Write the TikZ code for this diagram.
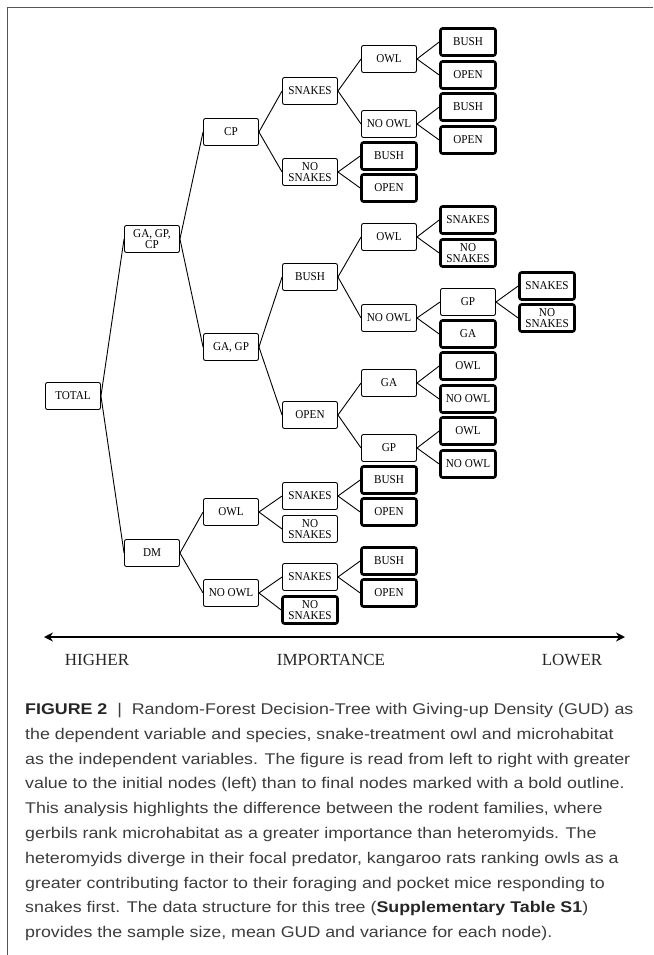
\documentclass[tikz,border=0pt]{standalone}
\usepackage{fontspec}
\setmainfont{Liberation Serif}
\newfontfamily\treefont[FakeStretch=0.93]{Liberation Serif}
\newfontfamily\capfont[FakeStretch=1.15]{Liberation Sans}
\usetikzlibrary{arrows.meta}
\definecolor{frameline}{HTML}{555555}
\definecolor{captext}{HTML}{3C3C3C}
\tikzset{
  box/.style={draw, rounded corners=2pt, minimum width=55pt, minimum height=27pt,
    inner sep=0pt, line width=0.9pt, align=center,
    font=\treefont\fontsize{12}{11.7}\selectfont},
  leaf/.style={box, line width=2.6pt},
  edge/.style={line width=0.9pt},
  scalelabel/.style={font=\fontsize{17}{20}\selectfont, text=black!85, anchor=base}
}
\begin{document}
\begin{tikzpicture}[x=1pt,y=-1pt] %arbol de decision, coordenadas en pixeles
            \useasboundingbox (0,0) rectangle (653,955);
            \draw[frameline, line width=1pt] (653,7.5) -- (7.5,7.5) -- (7.5,955);

            \node[box] (T) at (73,396) {TOTAL};

            \node[box] (A1) at (152,239) {GA, GP,\\CP};
            \node[box] (A2) at (152,553) {DM};

            \node[box] (B1) at (231,132) {CP};
            \node[box] (B2) at (231,347) {GA, GP};
            \node[box] (B3) at (231,512) {OWL};
            \node[box] (B4) at (231,593) {NO OWL};

            \node[box] (C1) at (310,91) {SNAKES};
            \node[box] (C2) at (310,172) {NO\\SNAKES};
            \node[box] (C3) at (310,277) {BUSH};
            \node[box] (C4) at (310,415) {OPEN};
            \node[box] (C5) at (310,496) {SNAKES};
            \node[box] (C6) at (310,529) {NO\\SNAKES};
            \node[box] (C7) at (310,577) {SNAKES};
            \node[leaf] (C8) at (310,610) {NO\\SNAKES};

            \node[box] (D1) at (389,59) {OWL};
            \node[box] (D2) at (389,124) {NO OWL};
            \node[leaf] (D3) at (389,156) {BUSH};
            \node[leaf] (D4) at (389,188) {OPEN};
            \node[box] (D5) at (389,237) {OWL};
            \node[box] (D6) at (389,318) {NO OWL};
            \node[box] (D7) at (389,383) {GA};
            \node[box] (D8) at (389,448) {GP};
            \node[leaf] (D9) at (389,480) {BUSH};
            \node[leaf] (D10) at (389,512) {OPEN};
            \node[leaf] (D11) at (389,561) {BUSH};
            \node[leaf] (D12) at (389,593) {OPEN};

            \node[leaf] (E1) at (468,42) {BUSH};
            \node[leaf] (E2) at (468,75) {OPEN};
            \node[leaf] (E3) at (468,107) {BUSH};
            \node[leaf] (E4) at (468,140) {OPEN};
            \node[leaf] (E5) at (468,220) {SNAKES};
            \node[leaf] (E6) at (468,253) {NO\\SNAKES};
            \node[box] (E7) at (468,302) {GP};
            \node[leaf] (E8) at (468,334) {GA};
            \node[leaf] (E9) at (468,366) {OWL};
            \node[leaf] (E10) at (468,399) {NO OWL};
            \node[leaf] (E11) at (468,431) {OWL};
            \node[leaf] (E12) at (468,464) {NO OWL};

            \node[leaf] (F1) at (547,286) {SNAKES};
            \node[leaf] (F2) at (547,318) {NO\\SNAKES};

            \draw[edge] (T.east) -- (A1.west);
            \draw[edge] (T.east) -- (A2.west);
            \draw[edge] (A1.east) -- (B1.west);
            \draw[edge] (A1.east) -- (B2.west);
            \draw[edge] (A2.east) -- (B3.west);
            \draw[edge] (A2.east) -- (B4.west);

            \draw[edge] (B1.east) -- (C1.west);
            \draw[edge] (B1.east) -- (C2.west);
            \draw[edge] (B2.east) -- (C3.west);
            \draw[edge] (B2.east) -- (C4.west);
            \draw[edge] (B3.east) -- (C5.west);
            \draw[edge] (B3.east) -- (C6.west);
            \draw[edge] (B4.east) -- (C7.west);
            \draw[edge] (B4.east) -- (C8.west);

            \draw[edge] (C1.east) -- (D1.west);
            \draw[edge] (C1.east) -- (D2.west);
            \draw[edge] (C2.east) -- (D3.west);
            \draw[edge] (C2.east) -- (D4.west);
            \draw[edge] (C3.east) -- (D5.west);
            \draw[edge] (C3.east) -- (D6.west);
            \draw[edge] (C4.east) -- (D7.west);
            \draw[edge] (C4.east) -- (D8.west);
            \draw[edge] (C5.east) -- (D9.west);
            \draw[edge] (C5.east) -- (D10.west);
            \draw[edge] (C7.east) -- (D11.west);
            \draw[edge] (C7.east) -- (D12.west);

            \draw[edge] (D1.east) -- (E1.west);
            \draw[edge] (D1.east) -- (E2.west);
            \draw[edge] (D2.east) -- (E3.west);
            \draw[edge] (D2.east) -- (E4.west);
            \draw[edge] (D5.east) -- (E5.west);
            \draw[edge] (D5.east) -- (E6.west);
            \draw[edge] (D6.east) -- (E7.west);
            \draw[edge] (D6.east) -- (E8.west);
            \draw[edge] (D7.east) -- (E9.west);
            \draw[edge] (D7.east) -- (E10.west);
            \draw[edge] (D8.east) -- (E11.west);
            \draw[edge] (D8.east) -- (E12.west);

            \draw[edge] (E7.east) -- (F1.west);
            \draw[edge] (E7.east) -- (F2.west);

            %eje de importancia
            \coordinate (L) at (44,637);
            \coordinate (R) at (625,637);
            \draw[line width=2.5pt, {Stealth[length=9pt,width=9pt]}-{Stealth[length=9pt,width=9pt]}] (L) -- (R);
            \node[scalelabel] (hi) at (97,665) {HIGHER};
            \node[scalelabel] (imp) at (331,665) {IMPORTANCE};
            \node[scalelabel] (lo) at (572,665) {LOWER};

            \node[anchor=north west, inner sep=0pt, align=left, text=captext,
              font=\capfont\fontsize{15.5}{24.8}\selectfont] (cap) at (25,703)
              {{\color{black!85}\bfseries FIGURE 2}\ \ \textbar\ \ Random-Forest Decision-Tree with Giving-up Density (GUD) as\\
               the dependent variable and species, snake-treatment owl and microhabitat\\
               as the independent variables. The figure is read from left to right with greater\\
               value to the initial nodes (left) than to final nodes marked with a bold outline.\\
               This analysis highlights the difference between the rodent families, where\\
               gerbils rank microhabitat as a greater importance than heteromyids. The\\
               heteromyids diverge in their focal predator, kangaroo rats ranking owls as a\\
               greater contributing factor to their foraging and pocket mice responding to\\
               snakes first. The data structure for this tree ({\color{black!85}\bfseries Supplementary Table S1})\\
               provides the sample size, mean GUD and variance for each node).};
        \end{tikzpicture}
\end{document}
